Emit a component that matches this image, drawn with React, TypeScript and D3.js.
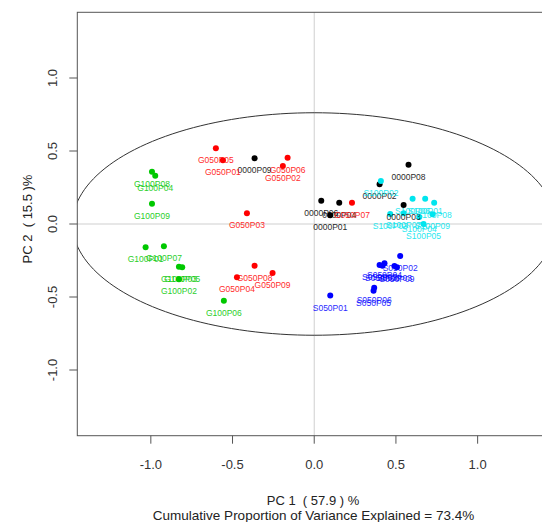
import React from "react";
import * as d3 from "d3";

const groupNames = ["0000", "G050", "G100", "S050", "S100"];
const groupColors = ["#000000", "#ff0000", "#00c800", "#0000ff", "#00e5ee"];

const blackIds = ["P01", "P02", "P03", "P04", "P06", "P08", "P09"];
const blackX = [0.098, 0.4, 0.547, 0.153, 0.043, 0.577, -0.365];
const blackY = [0.06, 0.272, 0.13, 0.146, 0.16, 0.406, 0.45];

const redIds = ["P01", "P02", "P03", "P04", "P05", "P06", "P07", "P08", "P09"];
const redX = [-0.559, -0.192, -0.412, -0.473, -0.602, -0.163, 0.231, -0.365, -0.255];
const redY = [0.436, 0.397, 0.073, -0.365, 0.518, 0.454, 0.146, -0.286, -0.336];

const greenIds = ["P01", "P02", "P03", "P04", "P05", "P06", "P07", "P08", "P09"];
const greenX = [-1.032, -0.828, -0.828, -0.973, -0.808, -0.553, -0.92, -0.993, -0.993];
const greenY = [-0.16, -0.379, -0.292, 0.331, -0.297, -0.525, -0.153, 0.358, 0.139];

const blueIds = ["P01", "P02", "P03", "P04", "P05", "P06", "P07", "P08", "P09"];
const blueX = [0.098, 0.526, 0.491, 0.43, 0.363, 0.367, 0.4, 0.418, 0.506];
const blueY = [-0.49, -0.219, -0.288, -0.269, -0.457, -0.436, -0.281, -0.286, -0.297];

const cyanIds = ["P01", "P02", "P03", "P04", "P05", "P06", "P07", "P08", "P09"];
const cyanX = [0.679, 0.408, 0.465, 0.643, 0.669, 0.602, 0.547, 0.734, 0.724];
const cyanY = [0.173, 0.295, 0.068, 0.048, 0.0, 0.173, 0.073, 0.146, 0.066];

const xTicks = [-1.0, -0.5, 0.0, 0.5, 1.0];
const yTicks = [-1.0, -0.5, 0.0, 0.5, 1.0];
const ellipseA = 1.479;
const ellipseB = 0.762;

const xTitle = "PC 1  ( 57.9 ) %";
const yTitle = "PC 2  ( 15.5 )%";
const subTitle = "Cumulative Proportion of Variance Explained = 73.4%";

const groups = [
  { ids: blackIds, xs: blackX, ys: blackY },
  { ids: redIds, xs: redX, ys: redY },
  { ids: greenIds, xs: greenX, ys: greenY },
  { ids: blueIds, xs: blueX, ys: blueY },
  { ids: cyanIds, xs: cyanX, ys: cyanY },
];

export default function App() {
  const W = 542;
  const H = 522;
  const left = 77.3;
  const x = d3.scaleLinear().domain([-1.45, 1.45]).range([left, left + 2.9 * 163.4]);
  const y = d3.scaleLinear().domain([-1.45, 1.45]).range([224 + 1.45 * 146, 224 - 1.45 * 146]);
  const [x0, x1] = x.range();
  const [yb, yt] = y.range();

  const ellPts: [number, number][] = d3.range(0, 361, 2).map((deg) => {
    const t = (deg * Math.PI) / 180;
    return [ellipseA * Math.cos(t), ellipseB * Math.sin(t)];
  });
  const ellPath = d3
    .line<[number, number]>()
    .x((d) => x(d[0]))
    .y((d) => y(d[1]))(ellPts) as string;

  const font = "'Liberation Sans', Arial, sans-serif";
  const axisColor = "#555";

  const pts: { gx: number; gy: number; label: string; color: string }[] = [];
  groups.forEach((g, gi) => {
    g.ids.forEach((id, i) => {
      pts.push({ gx: g.xs[i], gy: g.ys[i], label: groupNames[gi] + id, color: groupColors[gi] });
    });
  });

  return (
    <svg
      width={W}
      height={H}
      style={{ position: "absolute", left: 0, top: 0, background: "#fff" }}
      fontFamily={font}
    >
      <defs>
        <clipPath id="plotclip">
          <rect x={x0} y={yt} width={x1 - x0} height={yb - yt} />
        </clipPath>
      </defs>
      <rect x={0} y={0} width={W} height={H} fill="#fff" />
      <line x1={x(0)} x2={x(0)} y1={yt} y2={yb} stroke="#cfcfcf" strokeWidth={1} />
      <line x1={x0} x2={x1} y1={y(0)} y2={y(0)} stroke="#cfcfcf" strokeWidth={1} />
      <path d={ellPath} fill="none" stroke="#333" strokeWidth={1} clipPath="url(#plotclip)" />
      {pts.map((p, i) => (
        <circle key={"c" + i} cx={x(p.gx)} cy={y(p.gy)} r={3} fill={p.color} />
      ))}
      {pts.map((p, i) => (
        <text
          key={"t" + i}
          x={x(p.gx)}
          y={y(p.gy) + 15}
          fontSize={8.5}
          textAnchor="middle"
          fill={p.color}
          opacity={0.85}
        >
          {p.label}
        </text>
      ))}
      <rect x={x0} y={yt} width={x1 - x0} height={yb - yt} fill="none" stroke={axisColor} strokeWidth={1} />
      {xTicks.map((t) => (
        <g key={"xt" + t}>
          <line x1={x(t)} x2={x(t)} y1={yb} y2={yb + 8} stroke={axisColor} />
          <text x={x(t)} y={468.5} fontSize={13} textAnchor="middle" fill="#333">
            {d3.format(".1f")(t).replace("−", "-")}
          </text>
        </g>
      ))}
      {yTicks.map((t) => (
        <g key={"yt" + t}>
          <line x1={x0 - 8} x2={x0} y1={y(t)} y2={y(t)} stroke={axisColor} />
          <text
            transform={`translate(56.5,${y(t)}) rotate(-90)`}
            fontSize={13}
            textAnchor="middle"
            fill="#333"
          >
            {d3.format(".1f")(t).replace("−", "-")}
          </text>
        </g>
      ))}
      <text x={313} y={505} fontSize={13} textAnchor="middle" fill="#222" style={{ whiteSpace: "pre" }}>
        {xTitle}
      </text>
      <text x={313.5} y={520} fontSize={13.5} textAnchor="middle" fill="#222">
        {subTitle}
      </text>
      <text
        transform={`translate(32,219) rotate(-90)`}
        fontSize={13}
        textAnchor="middle"
        fill="#222"
        style={{ whiteSpace: "pre" }}
      >
        {yTitle}
      </text>
    </svg>
  );
}
